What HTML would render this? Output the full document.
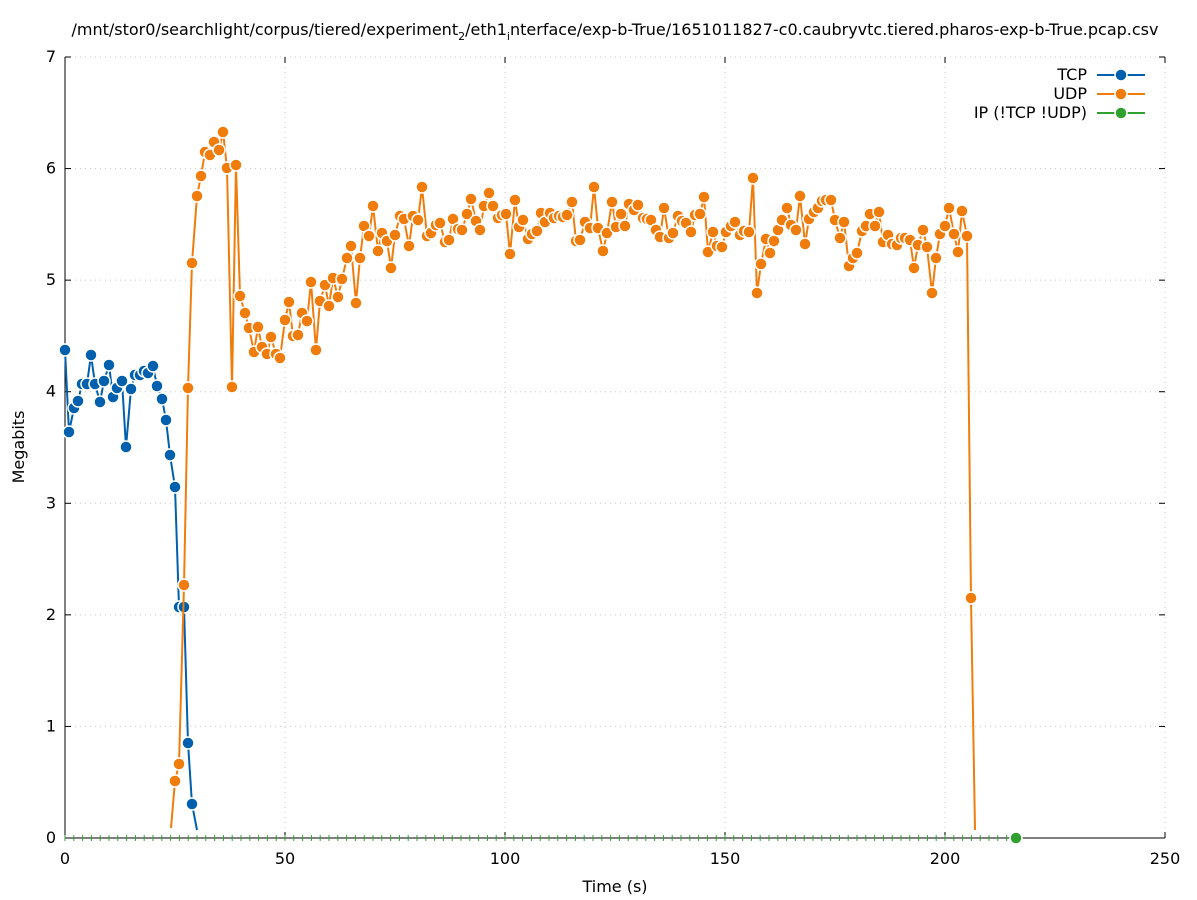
<!DOCTYPE html>
<html><head><meta charset="utf-8"><style>
html,body{margin:0;padding:0;background:#fff}
svg{display:block;font-family:"DejaVu Sans","Liberation Sans",sans-serif}
</style></head><body>
<svg id="s" width="1197" height="900" viewBox="0 0 1197 900" xmlns="http://www.w3.org/2000/svg">
<rect width="1197" height="900" fill="#fff"/>
<text x="615" y="35" font-size="16" text-anchor="middle">/mnt/stor0/searchlight/corpus/tiered/experiment<tspan font-size="11" dy="5">2</tspan><tspan dy="-5">/eth1</tspan><tspan font-size="11" dy="5">i</tspan><tspan dy="-5">nterface/exp-b-True/1651011827-c0.caubryvtc.tiered.pharos-exp-b-True.pcap.csv</tspan></text>
<g id="grid" stroke="#c8c8c8" stroke-width="1" stroke-dasharray="1,4"></g>
<line x1="65" y1="57" x2="1165" y2="57" stroke="#c8c8c8" stroke-dasharray="1,4"/>
<line x1="1165" y1="57" x2="1165" y2="838" stroke="#c8c8c8" stroke-dasharray="1,4"/>
<line x1="65" y1="57" x2="65" y2="838" stroke="#000"/>
<line x1="65" y1="838" x2="1165" y2="838" stroke="#000"/>
<g id="ticks" stroke="#000" stroke-width="1"></g>
<g id="lab" font-size="16"></g>
<text x="615" y="892" font-size="16" text-anchor="middle">Time (s)</text>
<text x="24" y="447" font-size="16" text-anchor="middle" transform="rotate(-90 24 447)">Megabits</text>
<g id="data"></g>
<g font-size="16" text-anchor="end">
<text x="1087" y="80">TCP</text>
<text x="1087" y="99">UDP</text>
<text x="1087" y="118">IP (!TCP  !UDP)</text>
</g>
<g stroke-width="2">
<line x1="1097" y1="75" x2="1145" y2="75" stroke="#0060ad"/><circle cx="1121" cy="75" r="6" fill="#0060ad" stroke="#fff" stroke-width="1.5"/>
<line x1="1097" y1="94" x2="1145" y2="94" stroke="#f07c0c"/><circle cx="1121" cy="94" r="6" fill="#f07c0c" stroke="#fff" stroke-width="1.5"/>
<line x1="1097" y1="113" x2="1145" y2="113" stroke="#30a030"/><circle cx="1121" cy="113" r="6" fill="#30a030" stroke="#fff" stroke-width="1.5"/>
</g>
</svg>
<script>
var NS="http://www.w3.org/2000/svg";
function el(p,t,a,txt){var e=document.createElementNS(NS,t);for(var k in a)e.setAttribute(k,a[k]);if(txt!=null)e.textContent=txt;document.getElementById(p).appendChild(e);return e;}
for(var i=0;i<=7;i++){var y=838-i*111.57;
 if(i>0&&i<7)el("grid","line",{x1:65,y1:y,x2:1165,y2:y});
 el("ticks","line",{x1:65,y1:y,x2:71,y2:y});el("ticks","line",{x1:1165,y1:y,x2:1159,y2:y});
 el("lab","text",{x:56,y:y+5,"text-anchor":"end"},i);}
for(var i=0;i<=5;i++){var x=65+i*220;
 if(i>0&&i<5)el("grid","line",{x1:x,y1:57,x2:x,y2:838});
 el("ticks","line",{x1:x,y1:838,x2:x,y2:832});el("ticks","line",{x1:x,y1:57,x2:x,y2:63});
 el("lab","text",{x:x,y:864,"text-anchor":"middle"},i*50);}
for(var x=65;x<=1016;x+=8.8)el("data","line",{x1:x,y1:835,x2:x,y2:841,stroke:"#30a030","stroke-width":1});
el("data","circle",{cx:1016,cy:838,r:6,fill:"#30a030",stroke:"#fff","stroke-width":1.5});
var tcp=[[65,350],[69,432],[74,408],[78,401],[82,384],[87,384],[91,355],[95,384],[100,402],[104,381],[109,365],[113,397],[117,388],[122,381],[126,447],[131,389],[135,375],[140,375],[144,371],[148,373],[153,366],[157,386],[162,399],[166,420],[170,455],[175,487],[179,607],[184,607],[188,743],[192,804],[197,830]];
var udp=[[171,828],[175,781],[179,764],[184,585],[188,388],[192,263],[197,196],[201,176],[205,152],[210,155],[214,142],[219,150],[223,132],[227,168],[232,387],[236,165],[240,296],[245,313],[249,328],[254,352],[258,327],[262,347],[267,354],[271,337],[276,354],[280,358],[285,320],[289,302],[293,336],[298,335],[302,313],[307,321],[311,282],[316,350],[320,301],[325,285],[329,306],[333,278],[338,297],[342,279],[347,258],[351,246],[356,303],[360,258],[364,226],[369,236],[373,206],[378,251],[382,233],[387,241],[391,268],[395,235],[400,216],[404,219],[409,246],[413,216],[418,220],[422,187],[427,236],[431,233],[436,225],[440,223],[445,242],[449,240],[453,219],[458,229],[462,230],[467,214],[471,199],[476,221],[480,230],[484,206],[489,193],[493,206],[498,218],[502,215],[506,214],[510,254],[515,200],[519,227],[523,220],[528,239],[532,234],[537,231],[541,213],[545,222],[550,213],[554,218],[559,216],[563,217],[567,215],[572,202],[576,241],[580,240],[585,222],[590,228],[594,187],[598,228],[603,251],[607,233],[612,202],[616,227],[621,214],[625,226],[629,204],[634,210],[638,205],[643,218],[647,219],[651,220],[656,230],[660,237],[664,208],[669,238],[673,233],[678,216],[682,221],[686,223],[691,232],[695,215],[700,214],[704,197],[708,252],[713,232],[717,246],[722,247],[726,232],[731,226],[735,222],[740,235],[744,231],[749,232],[753,178],[757,293],[761,264],[766,239],[770,253],[774,241],[778,230],[782,220],[787,208],[791,225],[796,230],[800,196],[805,244],[809,219],[814,212],[818,208],[822,201],[826,200],[831,200],[835,220],[840,238],[844,222],[849,266],[853,258],[857,253],[862,231],[866,226],[870,214],[875,226],[879,212],[883,242],[888,235],[892,244],[897,245],[901,238],[905,238],[910,240],[914,268],[918,245],[923,230],[927,247],[932,293],[936,258],[940,234],[945,226],[949,208],[954,234],[958,252],[962,211],[967,236],[971,598],[975,830]];
function series(d,c,first,last){
 el("data","polyline",{points:d.map(function(p){return p.join(",")}).join(" "),fill:"none",stroke:c,"stroke-width":2});
 d.forEach(function(p,i){if((i==0&&!first)||(i==d.length-1&&!last))return;el("data","circle",{cx:p[0],cy:p[1],r:6,fill:c,stroke:"#fff","stroke-width":1.5});});
}
series(tcp,"#0060ad",true,false);
series(udp,"#f07c0c",false,false);
</script>
</body></html>
